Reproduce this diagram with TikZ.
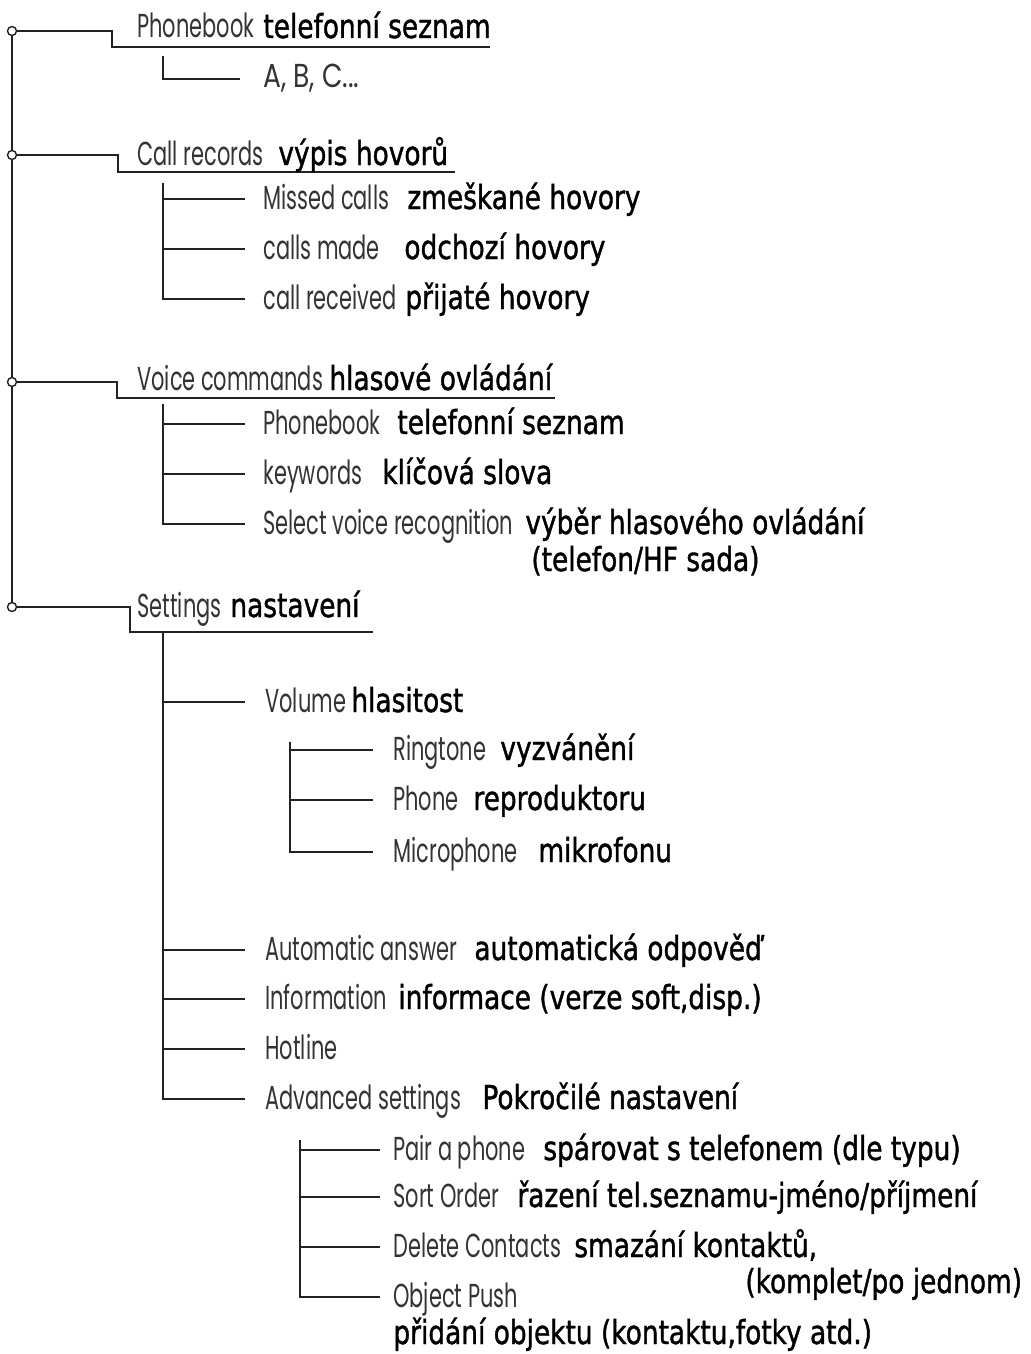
\documentclass[tikz,border=0pt]{standalone}
\usepackage{fontspec}
\newfontfamily\enf[FakeStretch=0.63]{Poppins}
\newfontfamily\enwide[FakeStretch=0.8]{Poppins}
\newfontfamily\czf[FakeStretch=0.8,FakeBold=1.2]{DejaVu Sans}
\definecolor{engray}{HTML}{333333}
\definecolor{linegray}{HTML}{222222}
\tikzset{
  en/.style={anchor=base west, inner sep=0pt, font=\enf\fontsize{16.6}{19}\selectfont, text=engray},
  cz/.style={anchor=base west, inner sep=0pt, font=\czf\fontsize{16.5}{19}\selectfont, text=black},
  tree/.style={line width=1pt, draw=linegray},
  knot/.style={circle, draw=linegray, line width=0.7pt, fill=white, inner sep=0pt, minimum size=4.5pt}
}
\begin{document}
\begin{tikzpicture}[x=0.5pt,y=-0.5pt]
\useasboundingbox[fill=white] (0,0) rectangle (1031,1354);
% main spine
\coordinate (top) at (12,31);
\coordinate (bot) at (12,607);
\draw[tree] (top) -- (bot);
\node[knot] (k1) at (12,31) {};
\node[knot] (k2) at (12,155) {};
\node[knot] (k3) at (12,382) {};
\node[knot] (k4) at (12,607) {};
% level 1 branches
\coordinate (u1) at (490,47);
\coordinate (u2) at (455,172);
\coordinate (u3) at (555,398);
\coordinate (u4) at (373,632);
\draw[tree] (k1.east) -- (112,31) -- (112,47) -- (u1);
\draw[tree] (k2.east) -- (118,155) -- (118,172) -- (u2);
\draw[tree] (k3.east) -- (117,382) -- (117,398) -- (u3);
\draw[tree] (k4.east) -- (130,607) -- (130,632) -- (u4);
% level 1 texts
\node[en] (pb) at (137,38) {Phonebook};
\node[cz] (pbc) at (263,38) {telefonní seznam};
\node[en] (cr) at (137,165) {Call records};
\node[cz] (crc) at (278,165) {výpis hovorů};
\node[en] (vc) at (137,390) {Voice commands};
\node[cz] (vcc) at (329,390) {hlasové ovládání};
\node[en] (st) at (137,617) {Settings};
\node[cz] (stc) at (230,617) {nastavení};
% phonebook sub
\draw[tree] (163,56) -- (163,79) -- (240,79);
\node[en, font=\enwide\fontsize{16.6}{19}\selectfont] (abc) at (263,88) {A, B, C...};
% call records sub
\draw[tree] (163,183) -- (163,299) -- (245,299);
\draw[tree] (163,199) -- (245,199);
\draw[tree] (163,249) -- (245,249);
\node[en] (mc) at (263,209) {Missed calls};
\node[cz] (mcc) at (407,209) {zmeškané hovory};
\node[en] (cm) at (263,259) {calls made};
\node[cz] (cmc) at (404,259) {odchozí hovory};
\node[en] (cv) at (263,309) {call received};
\node[cz] (cvc) at (405,309) {přijaté hovory};
% voice commands sub
\draw[tree] (163,404) -- (163,524) -- (245,524);
\draw[tree] (163,424) -- (245,424);
\draw[tree] (163,474) -- (245,474);
\node[en] (vp) at (263,434) {Phonebook};
\node[cz] (vpc) at (397,434) {telefonní seznam};
\node[en] (kw) at (263,484) {keywords};
\node[cz] (kwc) at (382,484) {klíčová slova};
\node[en] (sv) at (263,534) {Select voice recognition};
\node[cz] (svc) at (525,534) {výběr hlasového ovládání};
\node[cz] (svc2) at (531,571) {(telefon/HF sada)};
% settings sub
\draw[tree] (163,632) -- (163,1099) -- (245,1099);
\draw[tree] (163,702) -- (245,702);
\draw[tree] (163,950) -- (245,950);
\draw[tree] (163,999) -- (245,999);
\draw[tree] (163,1049) -- (245,1049);
\node[en] (vo) at (265,712) {Volume};
\node[cz] (voc) at (351,712) {hlasitost};
\node[en] (aa) at (265,960) {Automatic answer};
\node[cz] (aac) at (474,960) {automatická odpověď};
\node[en] (inf) at (265,1009) {Information};
\node[cz] (infc) at (398,1009) {informace (verze soft,disp.)};
\node[en] (hl) at (265,1059) {Hotline};
\node[en] (as) at (265,1109) {Advanced settings};
\node[cz] (asc) at (482,1109) {Pokročilé nastavení};
% volume sub
\draw[tree] (290,742) -- (290,852) -- (373,852);
\draw[tree] (290,750) -- (373,750);
\draw[tree] (290,800) -- (373,800);
\node[en] (rt) at (393,760) {Ringtone};
\node[cz] (rtc) at (500,760) {vyzvánění};
\node[en] (ph) at (393,810) {Phone};
\node[cz] (phc) at (473,810) {reproduktoru};
\node[en] (mi) at (393,862) {Microphone};
\node[cz] (mic) at (538,862) {mikrofonu};
% advanced sub
\draw[tree] (300,1140) -- (300,1297) -- (380,1297);
\draw[tree] (300,1150) -- (380,1150);
\draw[tree] (300,1197) -- (380,1197);
\draw[tree] (300,1247) -- (380,1247);
\node[en] (pp) at (393,1160) {Pair a phone};
\node[cz] (ppc) at (543,1160) {spárovat s telefonem (dle typu)};
\node[en] (so) at (393,1207) {Sort Order};
\node[cz] (soc) at (517,1207) {řazení tel.seznamu-jméno/příjmení};
\node[en] (dc) at (393,1257) {Delete Contacts};
\node[cz] (dcc) at (574,1257) {smazání kontaktů,};
\node[cz] (dcc2) at (745,1293) {(komplet/po jednom)};
\node[en] (op) at (393,1307) {Object Push};
\node[cz] (opc) at (393,1344) {přidání objektu (kontaktu,fotky atd.)};
\end{tikzpicture}
\end{document}
